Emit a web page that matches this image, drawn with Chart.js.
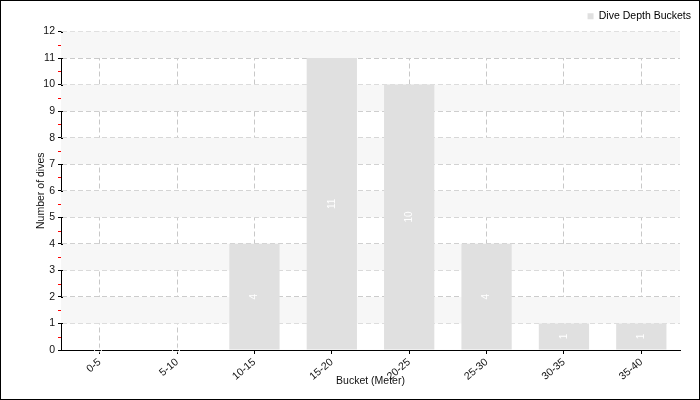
<!DOCTYPE html>
<html>
<head>
<meta charset="utf-8">
<script src="https://cdn.jsdelivr.net/npm/chart.js@4"></script>
<style>
  html, body { margin: 0; padding: 0; background: #fff; }
  #wrap { width: 700px; height: 400px; }
</style>
</head>
<body>
<div id="wrap"><canvas id="diveChart" width="700" height="400"></canvas></div>
<script>
const buckets = ["0-5", "5-10", "10-15", "15-20", "20-25", "25-30", "30-35", "35-40"];
const diveCounts = [0, 0, 4, 11, 10, 4, 1, 1];
const yTicks = [0, 1, 2, 3, 4, 5, 6, 7, 8, 9, 10, 11, 12];
const seriesName = "Dive Depth Buckets";

const FONT = "'Liberation Sans', Arial, sans-serif";
Chart.defaults.font.family = FONT;
Chart.defaults.font.size = 10.5;
Chart.defaults.color = '#111';

// alternating bands behind the bars, plus frame around the canvas
const bandsPlugin = {
    id: 'bands',
    beforeDatasetsDraw(chart) {
        const { ctx, chartArea, scales } = chart;
        const y = scales.y;
        ctx.save();
        ctx.fillStyle = '#f7f7f7';
        for (let i = 1; i < yTicks.length - 1; i += 2) {
            const top = y.getPixelForValue(yTicks[i + 1]);
            const bot = y.getPixelForValue(yTicks[i]);
            ctx.fillRect(chartArea.left, top, chartArea.right - chartArea.left, bot - top);
        }
        ctx.restore();
    },
    afterDraw(chart) {
        const { ctx, width, height, scales } = chart;
        const y = scales.y;
        ctx.save();
        // red minor ticks at the half steps
        ctx.strokeStyle = '#ff0000';
        ctx.lineWidth = 1;
        for (let i = 0; i < yTicks.length - 1; i++) {
            const py = Math.round(y.getPixelForValue(yTicks[i] + 0.5)) + 0.5;
            ctx.beginPath();
            ctx.moveTo(y.right - 3, py);
            ctx.lineTo(y.right, py);
            ctx.stroke();
        }
        // major ticks poke into the plot a bit
        ctx.strokeStyle = '#000';
        yTicks.forEach(v => {
            const py = Math.round(y.getPixelForValue(v)) + 0.5;
            ctx.beginPath();
            ctx.moveTo(y.right, py);
            ctx.lineTo(y.right + 2, py);
            ctx.stroke();
        });
        ctx.strokeRect(0.5, 0.5, width - 1, height - 1);
        ctx.restore();
    }
};

// value labels, white and turned on their side
const valueLabels = {
    id: 'valueLabels',
    afterDatasetsDraw(chart) {
        const { ctx } = chart;
        const meta = chart.getDatasetMeta(0);
        ctx.save();
        ctx.fillStyle = '#ffffff';
        ctx.font = '10px ' + FONT;
        ctx.textAlign = 'center';
        ctx.textBaseline = 'middle';
        meta.data.forEach((bar, i) => {
            const midY = (bar.y + bar.base) / 2;
            ctx.save();
            ctx.translate(bar.x, midY);
            ctx.rotate(-Math.PI / 2);
            ctx.fillText(String(diveCounts[i]), 0, 0);
            ctx.restore();
        });
        ctx.restore();
    }
};

new Chart(document.getElementById('diveChart'), {
    type: 'bar',
    data: {
        labels: buckets,
        datasets: [{
            label: seriesName,
            data: diveCounts,
            backgroundColor: '#e0e0e0',
            borderWidth: 0,
            categoryPercentage: 1,
            barPercentage: 0.65
        }]
    },
    options: {
        responsive: false,
        animation: false,
        layout: { padding: { top: 4, right: 2, left: 0, bottom: 0 } },
        plugins: {
            legend: {
                position: 'top',
                align: 'end',
                labels: {
                    boxWidth: 6,
                    boxHeight: 6,
                    padding: 7,
                    color: '#000'
                }
            },
            tooltip: { enabled: false }
        },
        scales: {
            x: {
                z: 1,
                grid: {
                    offset: false,
                    color: '#c8c8c8',
                    tickColor: '#000',
                    tickLength: 4
                },
                border: { display: true, color: '#000', width: 1, dash: [5, 3] },
                ticks: { minRotation: 40, maxRotation: 40, color: '#111', padding: 2 },
                title: { display: true, text: 'Bucket (Meter)', color: '#111', padding: { top: 0, bottom: 13 } },
                afterFit(s) { s.height = 50; }
            },
            y: {
                z: 1,
                min: 0,
                max: 12,
                grid: { color: '#c8c8c8', tickColor: '#000', tickLength: 3 },
                border: { display: true, color: '#000', width: 1, dash: [5, 3] },
                ticks: { stepSize: 1, color: '#111', padding: 3 },
                title: { display: true, text: 'Number of dives', color: '#111', padding: { top: 35, bottom: 0 } },
                afterFit(s) { s.width = 61; }
            },
            yRight: {
                position: 'right',
                display: true,
                grid: { display: false },
                border: { display: false },
                ticks: { display: false },
                afterFit(s) { s.width = 18; }
            }
        }
    },
    plugins: [bandsPlugin, valueLabels]
});
</script>
</body>
</html>
